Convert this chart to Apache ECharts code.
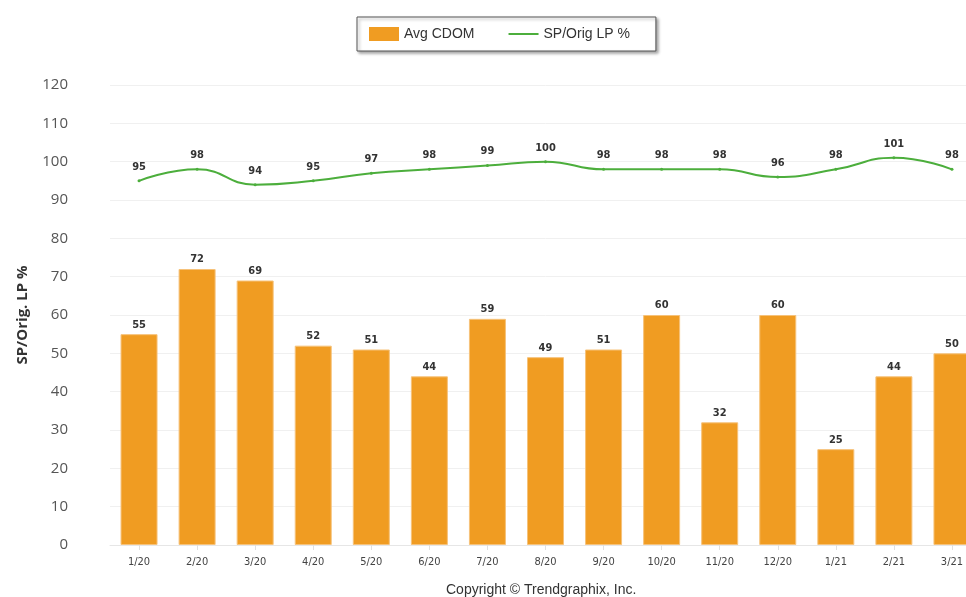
<!DOCTYPE html>
<html><head><meta charset="utf-8">
<script src="https://cdn.jsdelivr.net/npm/echarts@6/dist/echarts.min.js"></script>
<style>html,body{margin:0;padding:0;background:#fff;overflow:hidden}#c{width:981px;height:597px}</style>
</head><body><div id="c"></div>
<script>
const categories = ['1/20','2/20','3/20','4/20','5/20','6/20','7/20','8/20','9/20','10/20','11/20','12/20','1/21','2/21','3/21'];
const avgCDOM = [55,72,69,52,51,44,59,49,51,60,32,60,25,44,50];
const spOrigLP = [95,98,94,95,97,98,99,100,98,98,98,96,98,101,98];
const yTicks = {min:0,max:120,interval:10};

const chart = echarts.init(document.getElementById('c'));
chart.setOption({
  animation:false,
  backgroundColor:'#fff',
  legend:{
    top:17,left:357,
    itemGap:34,itemWidth:30,itemHeight:14,
    padding:[10,26,10,12],
    borderColor:'#555',borderWidth:1,
    shadowColor:'rgba(0,0,0,0.35)',shadowBlur:3,shadowOffsetX:2,shadowOffsetY:2,
    backgroundColor:'#fff',
    itemStyle:{borderWidth:0},
    textStyle:{fontFamily:'Liberation Sans, Arial',fontSize:14,color:'#333'},
    data:[{name:'Avg CDOM',icon:'rect',itemStyle:{borderWidth:0}},{name:'SP/Orig LP %',icon:'path://M0,6h30v2h-30z'}]
  },
  grid:{left:110,right:0,top:85,bottom:52},
  xAxis:{
    type:'category',data:categories,
    axisLine:{lineStyle:{color:'#e6e6e6'}},
    axisTick:{show:true,alignWithLabel:true,lineStyle:{color:'#e0e0e0'}},
    axisLabel:{color:'#444',fontSize:11,fontFamily:'DejaVu Sans Condensed, Noto Sans',margin:12}
  },
  yAxis:{
    type:'value',min:yTicks.min,max:yTicks.max,interval:yTicks.interval,
    name:'SP/Orig. LP %',nameLocation:'middle',nameGap:80,
    nameTextStyle:{fontWeight:'bold',fontSize:15,color:'#333',fontFamily:'Open Sans, Noto Sans'},
    axisLine:{show:false},axisTick:{show:false},
    axisLabel:{color:'#555',fontSize:15,fontFamily:'Open Sans, Noto Sans',margin:42},
    splitLine:{lineStyle:{color:'#f0f0f0'}}
  },
  series:[
    {name:'Avg CDOM',type:'bar',data:avgCDOM,barWidth:37,
     itemStyle:{color:'#f09c22',borderColor:'#f6c27a',borderWidth:1},
     label:{show:true,position:'top',distance:4,fontSize:11,fontWeight:'bold',color:'#333',fontFamily:'DejaVu Sans Condensed'}},
    {name:'SP/Orig LP %',type:'line',data:spOrigLP,smooth:true,
     symbol:'circle',symbolSize:3,
     lineStyle:{color:'#4cae3c',width:2},itemStyle:{color:'#4cae3c'},
     label:{show:true,position:'top',distance:7,fontSize:11,fontWeight:'bold',color:'#333',fontFamily:'DejaVu Sans Condensed'}}
  ],
  graphic:[{type:'text',left:446,top:583,style:{text:'Copyright \u00a9 Trendgraphix, Inc.',fontSize:14,fill:'#333',fontFamily:'Liberation Sans, Arial'}}]
});
</script></body></html>
